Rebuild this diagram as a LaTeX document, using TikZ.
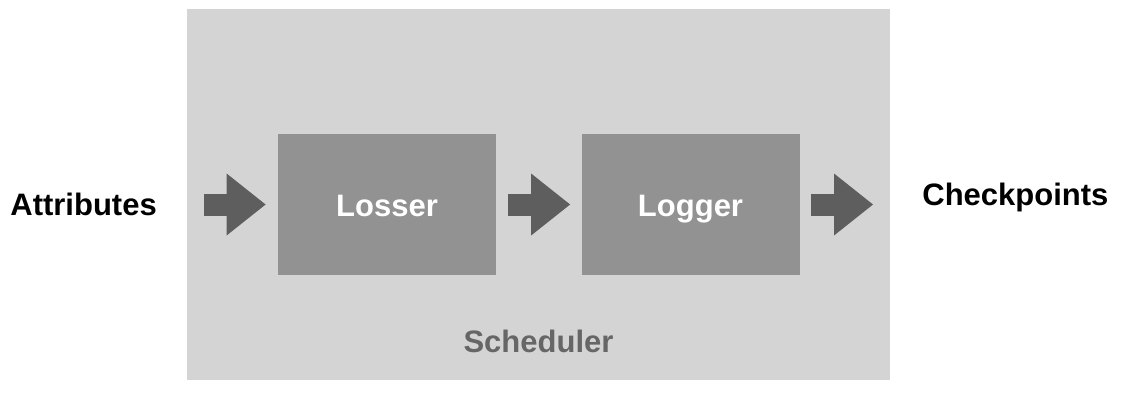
\documentclass[tikz,border=0pt]{standalone}
\usepackage{fontspec}
\setmainfont{Liberation Sans}
\usetikzlibrary{arrows.meta}
\definecolor{schedgray}{HTML}{D4D4D4}
\definecolor{modgray}{HTML}{929292}
\definecolor{flowgray}{HTML}{5E5E5E}
\definecolor{labelgray}{HTML}{666666}
\tikzset{
  lbl/.style={font=\bfseries\fontsize{15.5}{18}\selectfont, inner sep=0pt},
  module/.style={lbl, fill=modgray, text=white, minimum width=109pt, minimum height=70.5pt, text height=12pt, text depth=0pt},
  flow/.style={draw=flowgray, line width=11pt, -{Triangle[length=19.5pt, width=31pt, line width=0pt, flowgray]}}
}
\begin{document}
\begin{tikzpicture}[x=0.5pt,y=-0.5pt]
\useasboundingbox (0,0) rectangle (1122,402);
\node[fill=schedgray, minimum width=351.5pt, minimum height=185.5pt, inner sep=0pt] (sched) at (538.5,194.5) {};
\node[lbl, text=labelgray, anchor=base] (schedname) at (538.5,352) {Scheduler};
\node[module] (losser) at (387,204.5) {Losser};
\node[module] (logger) at (690.5,204.5) {Logger};
\node[lbl, anchor=base west] (attr) at (10,215) {Attributes};
\node[lbl, anchor=base west] (ckpt) at (922,205) {Checkpoints};
\coordinate (in) at (204,204.5);
\coordinate (out) at (873,204.5);
\draw[flow, shorten >=6pt] (in) -- (losser);
\draw[flow, shorten <=6pt, shorten >=5.5pt] (losser) -- (logger);
\draw[flow, shorten <=5.5pt] (logger) -- (out);
\end{tikzpicture}
\end{document}
